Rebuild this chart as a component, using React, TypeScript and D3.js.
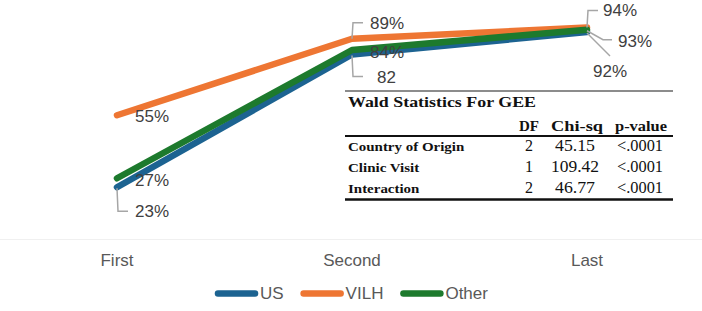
import * as d3 from 'd3';
import * as React from 'react';

const width = 702;
const height = 311;

const visits = ['First', 'Second', 'Last'];
const usValues = [23, 82, 92];
const vilhValues = [55, 89, 94];
const otherValues = [27, 84, 93];

const seriesNames = ['US', 'VILH', 'Other'];
const colors: Record<string, string> = { US: '#1c6391', VILH: '#ee7633', Other: '#1d7a2d' };

const tableTitle = 'Wald Statistics For GEE';
const tableHeaders = ['DF', 'Chi-sq', 'p-value'];
const tableRows = ['Country of Origin', 'Clinic Visit', 'Interaction'];
const tableDF = ['2', '1', '2'];
const tableChi = ['45.15', '109.42', '46.77'];
const tableP = ['<.0001', '<.0001', '<.0001'];

const sansFont = 'Liberation Sans, Arial, sans-serif';
const serifFont = 'Liberation Serif, Times New Roman, serif';

// label placement per series / point
type Lab = { dx: number; dy: number; leader?: [number, number][]; pct: boolean };
const labelLayout: Record<string, Lab[]> = {
  US: [
    { dx: 18, dy: 24, leader: [[0, 1], [1, 24], [11, 24]], pct: true },
    { dx: 25, dy: 23, leader: [[0, 1], [1, 22], [11, 22]], pct: false },
    { dx: 6, dy: 39, leader: [[0, 1], [23, 24]], pct: true },
  ],
  VILH: [
    { dx: 18, dy: 1, pct: true },
    { dx: 18, dy: -16, leader: [[0, 0], [1, -16], [11, -16]], pct: true },
    { dx: 16, dy: -17, leader: [[0, 0], [1, -17], [11, -17]], pct: true },
  ],
  Other: [
    { dx: 18, dy: 2, pct: true },
    { dx: 18, dy: 2, pct: true },
    { dx: 31, dy: 11, leader: [[0, 1], [16, 10], [25, 10]], pct: true },
  ],
};

function textWidth(s: string, font: string) {
  const ctx = document.createElement('canvas').getContext('2d');
  if (!ctx) return s.length * 9;
  ctx.font = font;
  return ctx.measureText(s).width;
}

export default function App() {
  const x = d3.scalePoint<string>().domain(visits).range([117, 587]);
  const y = d3.scaleLinear().domain([0, 100]).range([239, 14]);

  const data: Record<string, number[]> = { US: usValues, VILH: vilhValues, Other: otherValues };
  const line = d3
    .line<number>()
    .x((_, i) => x(visits[i]) as number)
    .y(d => y(d));

  // table geometry
  const tx = 345;
  const tw = 328;
  const rowY = d3.scaleLinear().domain([0, 1]).range([151, 172]);

  // legend layout driven by text width
  const legendX: number[] = [];
  let cur = 218;
  seriesNames.forEach(name => {
    legendX.push(cur);
    cur += 37 + 5 + textWidth(name, `17px ${sansFont}`) + 17 + 3;
  });

  return (
    <svg width={width} height={height} style={{ position: 'absolute', left: 0, top: 0 }}>
      <rect width={width} height={height} fill="#fff" />
      <line x1={0} x2={width} y1={239.5} y2={239.5} stroke="#f0f0f0" />

      {seriesNames.map(name => (
        <path
          key={name}
          d={line(data[name]) as string}
          fill="none"
          stroke={colors[name]}
          strokeWidth={6.5}
          strokeLinecap="round"
          strokeLinejoin="round"
        />
      ))}

      {seriesNames.map(name =>
        data[name].map((v, i) => {
          const px = x(visits[i]) as number;
          const py = y(v);
          const lab = labelLayout[name][i];
          return (
            <g key={name + i}>
              {lab.leader && (
                <polyline
                  points={lab.leader.map(([a, b]) => `${px + a},${py + b}`).join(' ')}
                  fill="none"
                  stroke="#a6a6a6"
                  strokeWidth={1.5}
                />
              )}
              <text
                x={px + lab.dx}
                y={py + lab.dy}
                dy="0.35em"
                fontFamily={sansFont}
                fontSize={17}
                fill="#404040"
              >
                {v + (lab.pct ? '%' : '')}
              </text>
            </g>
          );
        }),
      )}

      {visits.map(v => (
        <text
          key={v}
          x={x(v)}
          y={260}
          dy="0.35em"
          textAnchor="middle"
          fontFamily={sansFont}
          fontSize={17}
          fill="#595959"
        >
          {v}
        </text>
      ))}

      {/* stats table */}
      <g fontFamily={serifFont} fill="#111">
        <line x1={tx} x2={tx + tw} y1={91} y2={91} stroke="#666" strokeWidth={1.5} />
        <text x={tx + 3} y={107} fontSize={15} fontWeight="bold" textLength={188} lengthAdjust="spacingAndGlyphs">
          {tableTitle}
        </text>
        <text x={539} y={131} fontSize={15} fontWeight="bold" textAnchor="end" textLength={20} lengthAdjust="spacingAndGlyphs">
          {tableHeaders[0]}
        </text>
        <text x={577} y={131} fontSize={15} fontWeight="bold" textAnchor="middle" textLength={52} lengthAdjust="spacingAndGlyphs">
          {tableHeaders[1]}
        </text>
        <text x={641} y={131} fontSize={15} fontWeight="bold" textAnchor="middle" textLength={52} lengthAdjust="spacingAndGlyphs">
          {tableHeaders[2]}
        </text>
        <line x1={tx} x2={tx + tw} y1={136} y2={136} stroke="#111" strokeWidth={2} />
        {tableRows.map((r, i) => {
          const ry = rowY(i);
          const labW = textWidth(r, `bold 13px ${serifFont}`) * 1.15;
          return (
            <g key={r}>
              <text x={tx + 3} y={ry} fontSize={13} fontWeight="bold" textLength={labW} lengthAdjust="spacingAndGlyphs">
                {r}
              </text>
              <text x={529} y={ry} fontSize={16} textAnchor="middle">
                {tableDF[i]}
              </text>
              <text x={575} y={ry} fontSize={16} textAnchor="middle" textLength={tableChi[i].length * 8} lengthAdjust="spacingAndGlyphs">
                {tableChi[i]}
              </text>
              <text x={640} y={ry} fontSize={16} textAnchor="middle" textLength={46} lengthAdjust="spacingAndGlyphs">
                {tableP[i]}
              </text>
            </g>
          );
        })}
        <line x1={tx} x2={tx + tw} y1={199.5} y2={199.5} stroke="#111" strokeWidth={2.5} />
      </g>

      {/* legend */}
      {seriesNames.map((name, i) => {
        const lx = legendX[i];
        return (
          <g key={name}>
            <line
              x1={lx}
              x2={lx + 37}
              y1={293.5}
              y2={293.5}
              stroke={colors[name]}
              strokeWidth={6.5}
              strokeLinecap="round"
            />
            <text
              x={lx + 42}
              y={293.5}
              dy="0.35em"
              fontFamily={sansFont}
              fontSize={17}
              fill="#595959"
            >
              {name}
            </text>
          </g>
        );
      })}
    </svg>
  );
}
